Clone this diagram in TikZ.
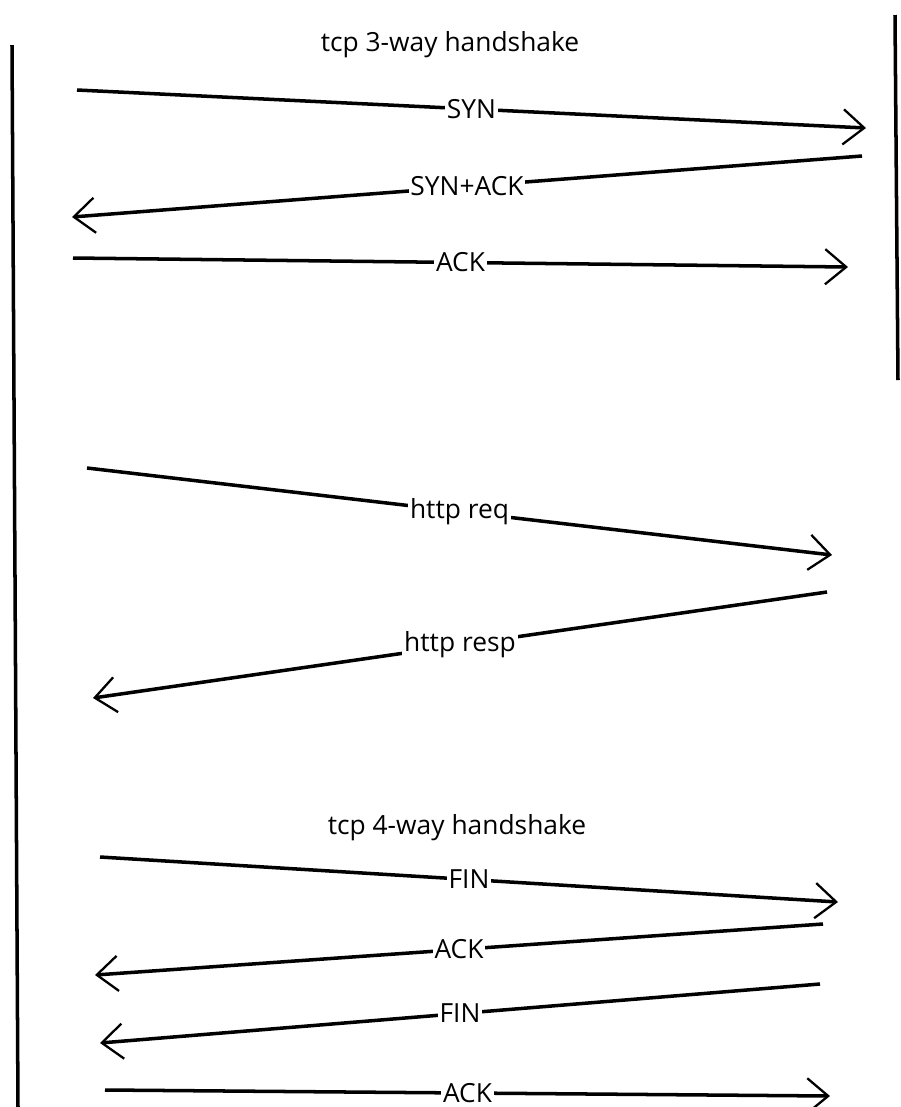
\documentclass[tikz,border=0pt]{standalone}
\usepackage{fontspec}
\setmainfont{Open Sans}
\usetikzlibrary{arrows.meta}

\begin{document}
\begin{tikzpicture}[x=0.02cm,y=-0.02cm]
	\tikzset{msg/.style={line width=2pt,-{Straight Barb[length=12pt,width=20pt,line width=1.3pt]}},
		lbl/.style={fill=white,inner sep=1pt,font=\fontsize{15pt}{17pt}\selectfont},
		ttl/.style={font=\fontsize{15pt}{17pt}\selectfont}}
	\useasboundingbox (0,0) rectangle (901,1107);
	% the two ends
	\coordinate (c1) at (12,45);
	\coordinate (c2) at (18,1107);
	\coordinate (s1) at (895,15);
	\coordinate (s2) at (898,380);
	\draw [line width=2pt] (c1) -- (c2);
	\draw [line width=2pt] (s1) -- (s2);
	\node [ttl] (t3) at (450,45) {tcp 3-way handshake};
	\node [ttl] (t4) at (457,828) {tcp 4-way handshake};
	% handshake
	\coordinate (a1) at (77,90);   \coordinate (b1) at (866,128);
	\coordinate (a2) at (862,156); \coordinate (b2) at (72,217);
	\coordinate (a3) at (73,258);  \coordinate (b3) at (848,267);
	\draw [msg] (a1) -- node [lbl,pos=0.5] {SYN} (b1);
	\draw [msg] (a2) -- node [lbl,pos=0.5] {SYN+ACK} (b2);
	\draw [msg] (a3) -- node [lbl,pos=0.5] {ACK} (b3);
	% http
	\coordinate (a4) at (87,468);  \coordinate (b4) at (832,555);
	\coordinate (a5) at (827,592); \coordinate (b5) at (93,698);
	\draw [msg] (a4) -- node [lbl,pos=0.5] {http req} (b4);
	\draw [msg] (a5) -- node [lbl,pos=0.5] {http resp} (b5);
	% teardown
	\coordinate (a6) at (100,857); \coordinate (b6) at (838,902);
	\coordinate (a7) at (823,924); \coordinate (b7) at (95,975);
	\coordinate (a8) at (820,984); \coordinate (b8) at (100,1043);
	\coordinate (a9) at (105,1090); \coordinate (b9) at (830,1096);
	\draw [msg] (a6) -- node [lbl,pos=0.5] {FIN} (b6);
	\draw [msg] (a7) -- node [lbl,pos=0.5] {ACK} (b7);
	\draw [msg] (a8) -- node [lbl,pos=0.5] {FIN} (b8);
	\draw [msg] (a9) -- node [lbl,pos=0.5] {ACK} (b9);
\end{tikzpicture}
\end{document}
